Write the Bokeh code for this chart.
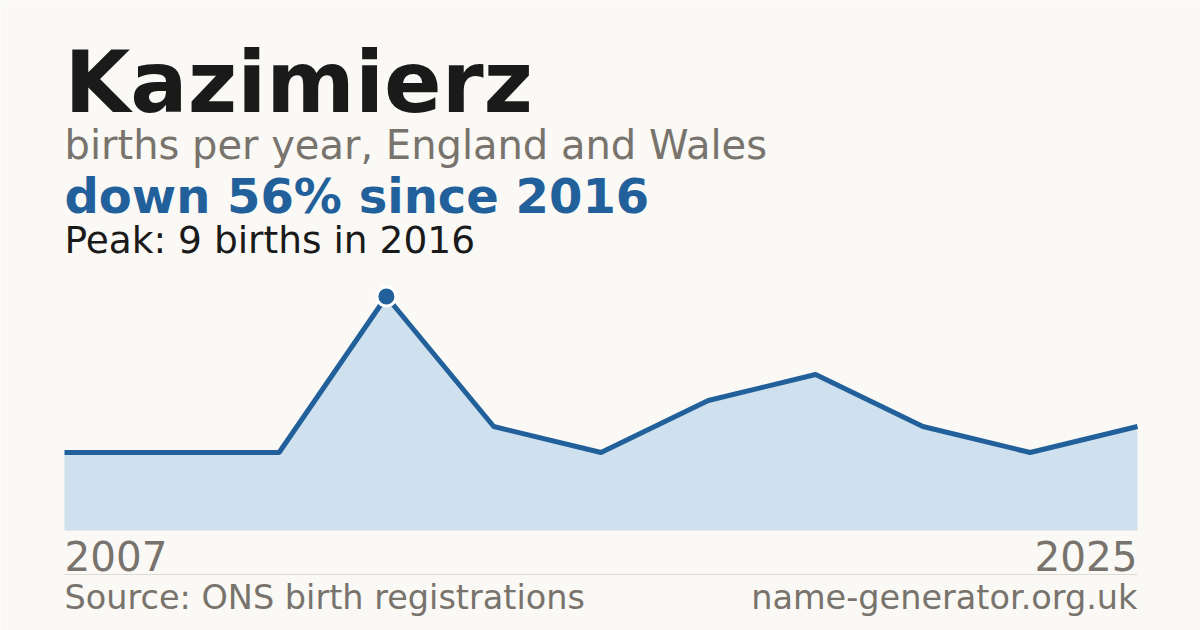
from bokeh.plotting import figure
from bokeh.models import Range1d, Label
from bokeh.embed import file_html
from bokeh.resources import INLINE

# ---- data ----
name = "Kazimierz"
years = [2007, 2009, 2012, 2016, 2017, 2018, 2019, 2021, 2022, 2024, 2025]
births = [3, 3, 3, 9, 4, 3, 5, 6, 4, 3, 4]
subtitle = "births per year, England and Wales"
source_text = "Source: ONS birth registrations"
site_text = "name-generator.org.uk"

# ---- style ----
BG = "#faf9f5"
BLUE = "#21609a"
FILL = "#cfe0ef"
DARK = "#1a1a1a"
GREY = "#78736c"
RULE = "#dcdad4"
FONT = "DejaVu Sans"

W, H = 1200, 630
LEFT, RIGHT = 64, 1137
BASE_PX, PEAK_PX = 530, 296
DESC = 0.36  # baseline correction (fraction of font size)

n = len(births)
xs = list(range(n))
peak = max(births)
pi = births.index(peak)
peak_year = years[pi]
change = round((births[-1] - peak) / peak * 100)
headline = f"{'down' if change < 0 else 'up'} {abs(change)}% since {peak_year}"
peak_text = f"Peak: {peak} births in {peak_year}"

step = (RIGHT - LEFT) / (n - 1)
unit = (BASE_PX - PEAK_PX) / peak


def dx(px):
    return (px - LEFT) / step


def dy(py):
    return (BASE_PX - py) / unit


p = figure(width=W, height=H,
           x_range=Range1d(dx(0), dx(W)),
           y_range=Range1d(dy(H), dy(0)),
           output_backend="svg", toolbar_location=None,
           x_axis_location=None, y_axis_location=None,
           min_border=0, background_fill_color=BG, border_fill_color=BG,
           outline_line_color=None)
p.grid.visible = False

p.varea(x=xs, y1=0, y2=births, fill_color=FILL)
p.line(xs, births, line_width=5, line_color=BLUE)
p.scatter([xs[pi]], [peak], size=19, fill_color=BLUE, line_color="white", line_width=3)

# separator rule
p.segment(x0=[xs[0]], y0=[dy(574)], x1=[xs[-1]], y1=[dy(574)], line_color=RULE, line_width=1)


def lab(text, x, py, size, color, style="normal", align="left"):
    p.add_layout(Label(x=x, y=dy(py - DESC * size), text=text, text_font=FONT,
                       text_font_size=f"{size}px",
                       text_color=color, text_font_style=style, text_align=align,
                       text_baseline="alphabetic"))


lab(name, dx(64), 113, 85, DARK, "bold")
lab(subtitle, dx(64), 159, 40, GREY)
lab(headline, dx(64), 213, 48, BLUE, "bold")
lab(peak_text, dx(64), 253, 37.5, DARK)
lab(str(years[0]), xs[0], 570, 40.5, GREY)
lab(str(years[-1]), xs[-1], 570, 40.5, GREY, align="right")
lab(source_text, xs[0], 609, 33.5, GREY)
lab(site_text, xs[-1], 609, 33.5, GREY, align="right")

open("out.html", "w").write(file_html(p, INLINE))
